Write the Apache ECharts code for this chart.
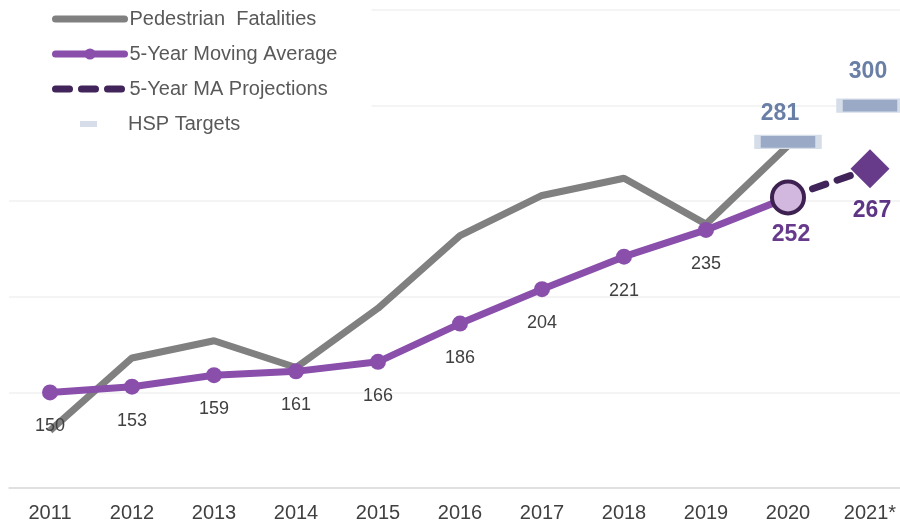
<!DOCTYPE html>
<html>
<head>
<meta charset="utf-8">
<script src="https://cdn.jsdelivr.net/npm/echarts@6/dist/echarts.min.js"></script>
<style>html,body{margin:0;padding:0;background:#fff}#c{width:900px;height:524px}</style>
</head>
<body>
<div id="c"></div>
<script>
var categories = ['2011','2012','2013','2014','2015','2016','2017','2018','2019','2020','2021*'];
var pedestrian = [130,168,177,163,194,232,253,262,238,279,null];
var movingAvg = [150,153,159,161,166,186,204,221,235,252,null];
var projection = [null,null,null,null,null,null,null,null,null,252,267];
var projectedPoint = [null,null,null,null,null,null,null,null,null,null,267];
var targets = [null,null,null,null,null,null,null,null,null,281,300];

var font = 'Liberation Sans, Arial, sans-serif';
var chart = echarts.init(document.getElementById('c'));

var maData = movingAvg.map(function (v, i) {
  if (i === 9) {
    return {
      value: v, symbolSize: 32,
      itemStyle: {color: '#d2b8df', borderColor: '#3d2150', borderWidth: 4},
      label: {fontSize: 23, fontWeight: 'bold', color: '#673a8c', distance: 8, offset: [3, 0]}
    };
  }
  return v;
});
var targetData = targets.map(function (v, i) {
  if (i === 9) return {value: v, label: {offset: [-8, 0]}};
  if (i === 10) return {value: v, label: {distance: 15, offset: [-2, 0]}};
  return v;
});

chart.setOption({
  animation: false,
  grid: {left: 9, width: 902, top: 10, bottom: 36, containLabel: false, outerBoundsMode: 'none'},
  legend: [{
    left: 0, top: 1, orient: 'vertical',
    padding: [8, 34, 12, 52],
    backgroundColor: '#fff',
    itemWidth: 69, itemHeight: 14, itemGap: 15,
    textStyle: {fontFamily: font, fontSize: 20, color: '#595959', lineHeight: 20},
    lineStyle: {width: 7, cap: 'round'},
    data: [
      {name: 'Pedestrian  Fatalities', itemStyle: {opacity: 0}},
      {name: '5-Year Moving Average'},
      {name: '5-Year MA Projections', itemStyle: {opacity: 0}}
    ]
  }, {
    left: 80, top: 114, orient: 'vertical', padding: 0,
    itemWidth: 17, itemHeight: 6,
    textStyle: {fontFamily: font, fontSize: 20, color: '#595959', lineHeight: 20, padding: [0, 0, 0, 26]},
    data: [{name: 'HSP Targets', itemStyle: {color: '#d6dde9', borderWidth: 0}}]
  }],
  xAxis: {
    type: 'category', data: categories, boundaryGap: true,
    axisLine: {lineStyle: {color: '#d9d9d9', width: 1.5}},
    axisTick: {show: false},
    axisLabel: {fontFamily: font, fontSize: 20, color: '#404040', margin: 15}
  },
  yAxis: {
    type: 'value', min: 100, max: 350, interval: 50,
    axisLabel: {show: false}, axisLine: {show: false}, axisTick: {show: false},
    splitLine: {lineStyle: {color: '#f0f0f0', width: 1.5}}
  },
  series: [{
    name: 'Pedestrian  Fatalities', type: 'line', data: pedestrian,
    symbol: 'none', z: 2,
    lineStyle: {color: '#808080', width: 7},
    itemStyle: {color: '#808080'}
  }, {
    name: 'HSP Targets', type: 'scatter', data: targetData, z: 3,
    symbol: 'rect', symbolSize: [61, 13],
    itemStyle: {color: '#9aaac6', borderColor: '#d5dde9', borderWidth: 3, opacity: 1},
    label: {show: true, position: 'top', distance: 10, fontFamily: font, fontSize: 23, fontWeight: 'bold', color: '#6a7fa6'}
  }, {
    name: '5-Year MA Projections', type: 'line', data: projection,
    symbol: 'none', z: 3,
    lineStyle: {color: '#41255a', width: 7, type: [14, 12], cap: 'round'},
    itemStyle: {color: '#41255a'}
  }, {
    name: 'proj', type: 'scatter', data: projectedPoint, z: 4,
    symbol: 'diamond', symbolSize: 39,
    itemStyle: {color: '#683b8a', opacity: 1},
    label: {show: true, position: 'bottom', distance: 11, offset: [2, 0], fontFamily: font, fontSize: 23, fontWeight: 'bold', color: '#5e3585'}
  }, {
    name: '5-Year Moving Average', type: 'line', data: maData,
    symbol: 'circle', symbolSize: 16, z: 5,
    lineStyle: {color: '#8a4fab', width: 7},
    itemStyle: {color: '#8a4fab'},
    label: {show: true, position: 'bottom', distance: 17, fontFamily: font, fontSize: 18, color: '#404040'}
  }]
});
</script>
</body>
</html>
